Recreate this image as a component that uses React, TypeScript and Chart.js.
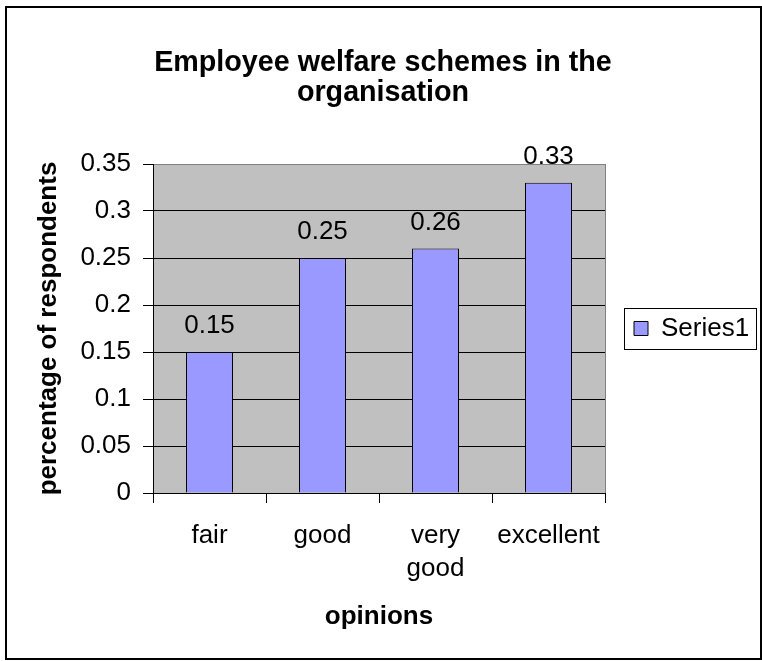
import React, { useEffect, useRef } from 'react';
import { Chart, registerables } from 'chart.js';

Chart.register(...registerables);

const titleLines = ['Employee welfare schemes in the', 'organisation'];
const categories: (string | string[])[] = ['fair', 'good', ['very', 'good'], 'excellent'];
const seriesName = 'Series1';
const values = [0.15, 0.25, 0.26, 0.33];
const valueLabels = ['0.15', '0.25', '0.26', '0.33'];
const yTickValues = [0, 0.05, 0.1, 0.15, 0.2, 0.25, 0.3, 0.35];
const yTickLabels = ['0', '0.05', '0.1', '0.15', '0.2', '0.25', '0.3', '0.35'];
const yTitle = 'percentage of respondents';
const xTitle = 'opinions';

const FONT = "'Liberation Sans', Arial, sans-serif";

const chartDecor = {
  id: 'chartDecor',
  beforeDraw(chart: any) {
    const { ctx, chartArea, width, height } = chart;
    ctx.save();
    ctx.fillStyle = '#ffffff';
    ctx.fillRect(0, 0, width, height);
    ctx.fillStyle = '#C0C0C0';
    ctx.fillRect(chartArea.left, chartArea.top, chartArea.right - chartArea.left, chartArea.bottom - chartArea.top);
    ctx.restore();
  },
  afterDatasetsDraw(chart: any) {
    const { ctx } = chart;
    const meta = chart.getDatasetMeta(0);
    ctx.save();
    ctx.fillStyle = '#000';
    ctx.font = `26px ${FONT}`;
    ctx.textAlign = 'center';
    ctx.textBaseline = 'alphabetic';
    meta.data.forEach((el: any, i: number) => {
      ctx.fillText(valueLabels[i], el.x, el.y - 19);
    });
    ctx.restore();
  },
  afterDraw(chart: any) {
    const { ctx, chartArea } = chart;
    ctx.save();
    // plot area right border
    ctx.strokeStyle = '#808080';
    ctx.lineWidth = 1;
    const rx = Math.round(chartArea.right) + 0.5;
    ctx.beginPath();
    ctx.moveTo(rx, Math.round(chartArea.top));
    ctx.lineTo(rx, Math.round(chartArea.bottom));
    ctx.stroke();
    // legend frame
    const hb = chart.legend && chart.legend.legendHitBoxes && chart.legend.legendHitBoxes[0];
    if (hb) {
      const cy = hb.top + hb.height / 2;
      ctx.strokeStyle = '#000';
      ctx.lineWidth = 1;
      ctx.strokeRect(Math.round(hb.left - 10) + 0.5, Math.round(cy - 21) + 0.5, Math.round(hb.width + 17), 41);
    }
    // outer frame
    ctx.strokeStyle = '#000';
    ctx.lineWidth = 2;
    ctx.strokeRect(6, 7, 755, 652);
    ctx.restore();
  },
};

export default function App() {
  const ref = useRef<HTMLCanvasElement | null>(null);

  useEffect(() => {
    if (!ref.current) return;
    const chart = new Chart(ref.current, {
      type: 'bar',
      data: {
        labels: categories as any,
        datasets: [
          {
            label: seriesName,
            data: values,
            backgroundColor: '#9999FF',
            borderColor: '#000000',
            borderWidth: 1,
            inflateAmount: 0,
            barPercentage: 47 / 113,
            categoryPercentage: 1,
          },
        ],
      },
      options: {
        animation: false,
        responsive: false,
        devicePixelRatio: 1,
        layout: { padding: { left: 9, right: 5, top: 0, bottom: 12.8 } },
        plugins: {
          title: {
            display: true,
            text: titleLines,
            color: '#000',
            font: { family: FONT, size: 28.7, weight: 'bold', lineHeight: 30 / 28.7 },
            padding: { top: 48, bottom: 56 },
          },
          legend: {
            display: true,
            position: 'right',
            fullSize: false,
            maxWidth: 152,
            labels: {
              color: '#000',
              font: { family: FONT, size: 26 },
              boxWidth: 14,
              boxHeight: 14,
              padding: 29,
            },
          },
          tooltip: { enabled: false },
        },
        scales: {
          x: {
            type: 'category',
            offset: true,
            grid: {
              display: true,
              offset: true,
              drawOnChartArea: false,
              drawTicks: true,
              tickLength: 10,
              color: '#000',
              tickColor: '#000',
            },
            border: { display: true, color: '#000', width: 1 },
            ticks: {
              color: '#000',
              font: { family: FONT, size: 26, lineHeight: 33 / 26 },
              padding: 16,
              maxRotation: 0,
              minRotation: 0,
              autoSkip: false,
            },
            title: {
              display: true,
              text: xTitle,
              color: '#000',
              font: { family: FONT, size: 26, weight: 'bold', lineHeight: 1.2 },
              padding: { top: 0, bottom: 16 },
            },
          },
          y: {
            type: 'linear',
            min: 0,
            max: 0.35,
            afterBuildTicks: (scale: any) => {
              scale.ticks = yTickValues.map((v) => ({ value: v }));
            },
            afterFit: (scale: any) => {
              scale.width = 144;
            },
            grid: {
              display: true,
              drawOnChartArea: true,
              drawTicks: true,
              tickLength: 10,
              color: (c: any) => (c.tick && Math.abs(c.tick.value - 0.35) < 1e-9 ? '#808080' : '#000'),
              tickColor: '#000',
              lineWidth: 1,
            },
            border: { display: true, color: '#000', width: 1 },
            ticks: {
              color: '#000',
              font: { family: FONT, size: 26, lineHeight: 1.2 },
              padding: 12,
              callback: (_v: any, i: number) => yTickLabels[i],
            },
            title: {
              display: true,
              text: yTitle,
              color: '#000',
              font: { family: FONT, size: 26, weight: 'bold', lineHeight: 1.2 },
              padding: { top: 24.4, bottom: 3.8 },
            },
          },
        },
      },
      plugins: [chartDecor],
    } as any);
    return () => chart.destroy();
  }, []);

  return (
    <div style={{ position: 'absolute', left: 0, top: 0, width: 762, height: 661 }}>
      <canvas ref={ref} width={762} height={661} style={{ display: 'block', width: 762, height: 661 }} />
    </div>
  );
}
